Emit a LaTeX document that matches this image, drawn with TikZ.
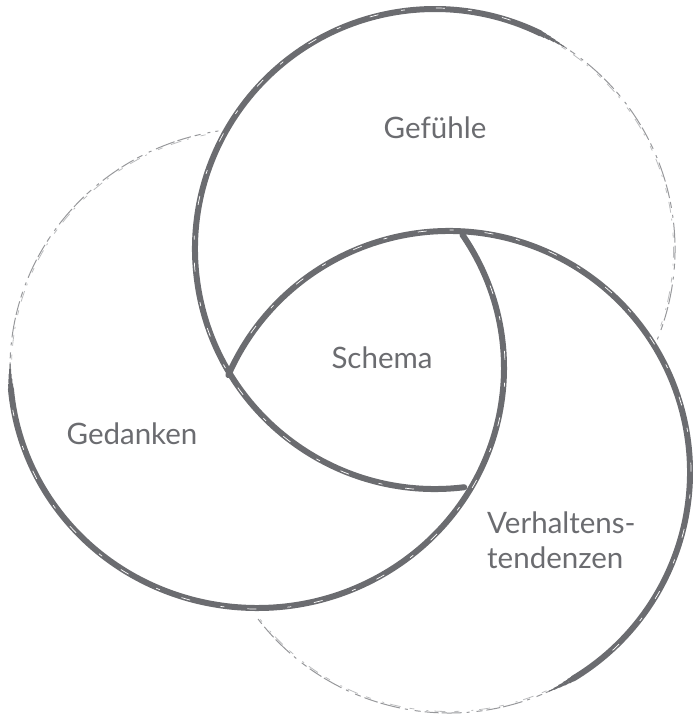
\documentclass[tikz,border=0pt]{standalone}
\usepackage{fontspec}
\setmainfont{Lato}
\definecolor{ink}{HTML}{6B6C70}
\begin{document}
\begin{tikzpicture}[x=1pt,y=-1pt,
  darkarc/.style={draw=ink, line width=6pt, line cap=round},
  faintarc/.style={draw=ink!70, line width=1pt, dash pattern=on 14pt off 4pt on 6pt off 7pt on 3pt off 5pt on 20pt off 3pt},
  faintarcb/.style={draw=ink!45, line width=0.8pt, dash pattern=on 5pt off 9pt on 11pt off 6pt on 2pt off 12pt},
  streak/.style={draw=white, line width=0.7pt, dash pattern=on 9pt off 23pt on 4pt off 31pt},
  lbl/.style={text=ink, font=\fontsize{29.5}{35}\selectfont, inner sep=0pt}]
\useasboundingbox (0,0) rectangle (693,718);
\coordinate (cA) at (435,249);
\coordinate (cB) at (257,368);
\coordinate (cC) at (449,472);
% circle A (Gefuehle)
\draw[faintarc] (cA) ++(300:240) arc[start angle=300, end angle=383, radius=240];
\draw[faintarcb] (cA) ++(302:238.5) arc[start angle=302, end angle=380, radius=238.5];
\draw[darkarc] (cA) ++(83:240) arc[start angle=83, end angle=296, radius=240];
\foreach \k in {1,...,5}{
  \draw[draw=ink, line width={6pt*(1-\k/6)}] (cA) ++({296+(\k-1)*1.3}:240) arc[start angle={296+(\k-1)*1.3}, end angle={296+\k*1.3}, radius=240];}
\draw[streak] (cA) ++(95:241) arc[start angle=95, end angle=290, radius=241];
% circle B (Gedanken)
\draw[faintarc] (cB) ++({247*cos(178)},{240*sin(178)}) arc[start angle=178, end angle=261, x radius=247, y radius=240];
\draw[faintarcb] (cB) ++({245.5*cos(182)},{238.5*sin(182)}) arc[start angle=182, end angle=259, x radius=245.5, y radius=238.5];
\draw[darkarc] (cB) ++({247*cos(-33.7)},{240*sin(-33.7)}) arc[start angle=-33.7, end angle=175, x radius=247, y radius=240];
\foreach \k in {1,...,5}{
  \draw[draw=ink, line width={6pt*(1-\k/6)}] (cB) ++({247*cos(175+(\k-1)*1.2)},{240*sin(175+(\k-1)*1.2)}) arc[start angle={175+(\k-1)*1.2}, end angle={175+\k*1.2}, x radius=247, y radius=240];}
\draw[streak] (cB) ++({248*cos(-20)},{241*sin(-20)}) arc[start angle=-20, end angle=170, x radius=248, y radius=241];
% circle C (Verhaltenstendenzen)
\draw[faintarc] (cC) ++(423:241) arc[start angle=423, end angle=504, radius=241];
\draw[faintarcb] (cC) ++(426:239.5) arc[start angle=426, end angle=502, radius=239.5];
\draw[darkarc] (cC) ++(203.7:241) arc[start angle=203.7, end angle=419, radius=241];
\foreach \k in {1,...,5}{
  \draw[draw=ink, line width={6pt*(1-\k/6)}] (cC) ++({419+(\k-1)*1.3}:241) arc[start angle={419+(\k-1)*1.3}, end angle={419+\k*1.3}, radius=241];}
\draw[streak] (cC) ++(215:242) arc[start angle=215, end angle=410, radius=242];
% labels
\node[lbl] (gef) at (435,128) {Gefühle};
\node[lbl] (sch) at (382,358) {Schema};
\node[lbl] (ged) at (132,434) {Gedanken};
\node[lbl, anchor=north west, align=left] (ver) at (487,512) {Verhaltens-\\tendenzen};
\end{tikzpicture}
\end{document}
